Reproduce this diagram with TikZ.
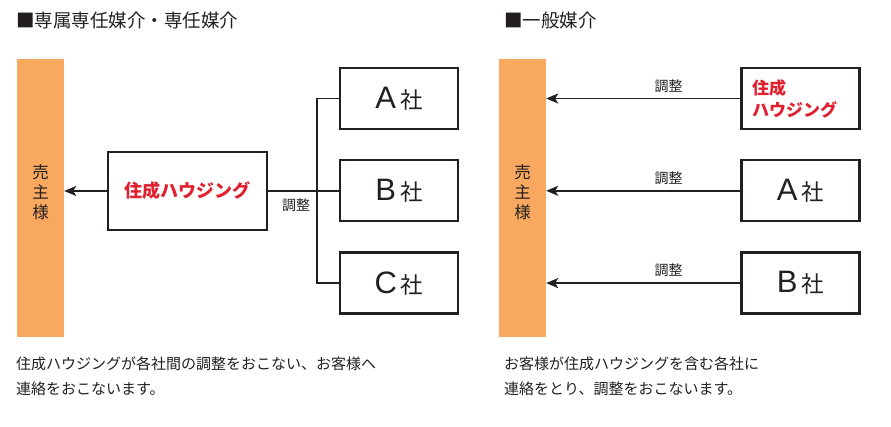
\documentclass[tikz,border=0pt]{standalone}
\usepackage{fontspec}
\setmainfont{Noto Sans CJK JP}
\newfontfamily\latinface{Liberation Sans}
\usetikzlibrary{arrows.meta,positioning}
\definecolor{SellerBar}{HTML}{F8A95F}
\definecolor{BrandRed}{HTML}{E0202E}
\definecolor{InkMain}{HTML}{231F20}

\tikzset{
    headline/.style={anchor=west, inner sep=0pt, text=InkMain, font=\fontsize{18.5}{20}\selectfont},
    sellerbar/.style={fill=SellerBar, draw=none, minimum width=47pt, minimum height=278pt, inner sep=0pt},
    sellertext/.style={align=center, inner sep=0pt, text=InkMain, font=\fontsize{16.5}{20}\selectfont},
    firmbox/.style={draw=InkMain, line width=2.3pt, minimum width=118pt, minimum height=61pt, inner sep=0pt, text=InkMain},
    brand/.style={text=BrandRed, font=\bfseries\fontsize{17}{22}\selectfont},
    link/.style={draw=InkMain, line width=1.8pt},
    tolink/.style={link, -{Stealth[length=12pt,width=10pt,inset=3pt]}},
    adjust/.style={inner sep=0pt, text=InkMain, font=\fontsize{14}{16}\selectfont},
    note/.style={anchor=north west, align=left, inner sep=0pt, text=InkMain, font=\fontsize{15}{25}\selectfont}
}
\newcommand{\firmname}[1]{{\latinface\fontsize{31}{31}\selectfont #1}\hspace{4pt}{\fontsize{22.5}{22.5}\selectfont 社}}

\begin{document}
\begin{tikzpicture}[x=1pt,y=-1pt]
    \useasboundingbox (0,0) rectangle (891,427);

    % left: exclusive agency
    \node[headline] (titleL) at (16,20) {■専属専任媒介・専任媒介};
    \node[sellerbar] (sellerL) at (40.5,198) {};
    \node[sellertext] (sellerLtext) at (40.5,192) {売\\主\\様};
    \node[firmbox, brand, font=\bfseries\fontsize{18}{22}\selectfont, minimum width=159pt, minimum height=78pt] (housingL) at (187.5,191) {住成ハウジング};
    \coordinate (hubL) at (317,191);
    \node[firmbox] (firmA) at (399,98.5) {\firmname{A}};
    \node[firmbox, below=29pt of firmA] (firmB) {\firmname{B}};
    \node[firmbox, below=29pt of firmB] (firmC) {\firmname{C}};

    \draw[tolink] (housingL.west) -- (housingL.west -| sellerL.east);
    \draw[link] (housingL.east) -- (hubL) -- (hubL -| firmB.west);
    \draw[link] (firmA.west) -- (firmA.west -| hubL) -- (firmC.west -| hubL) -- (firmC.west);
    \node[adjust] (adjL) at (296,205) {調整};

    \node[note] (noteL) at (16,357) {住成ハウジングが各社間の調整をおこない、お客様へ\\連絡をおこないます。};

    % right: general agency
    \node[headline] (titleR) at (504,20) {■一般媒介};
    \node[sellerbar] (sellerR) at (522.5,198) {};
    \node[sellertext] (sellerRtext) at (522.5,192) {売\\主\\様};
    \node[firmbox, brand, align=left, text width=97pt, inner xsep=10.5pt] (housingR) at (800.5,98.5) {住成\\ハウジング};
    \node[firmbox, below=29pt of housingR] (firmRA) {\firmname{A}};
    \node[firmbox, below=29pt of firmRA] (firmRB) {\firmname{B}};

    \draw[tolink] (housingR.west) -- (housingR.west -| sellerR.east) node[adjust, pos=0.37, above=5pt] {調整};
    \draw[tolink] (firmRA.west) -- (firmRA.west -| sellerR.east) node[adjust, pos=0.37, above=5pt] {調整};
    \draw[tolink] (firmRB.west) -- (firmRB.west -| sellerR.east) node[adjust, pos=0.37, above=5pt] {調整};

    \node[note] (noteR) at (504,357) {お客様が住成ハウジングを含む各社に\\連絡をとり、調整をおこないます。};
\end{tikzpicture}
\end{document}
